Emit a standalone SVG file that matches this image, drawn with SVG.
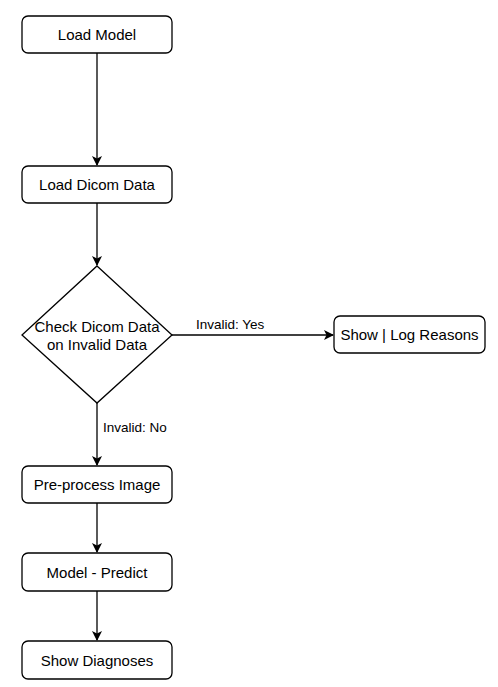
<svg xmlns="http://www.w3.org/2000/svg" width="498" height="687" viewBox="0 0 498 687">
<style>
.box{fill:#fff;stroke:#000;stroke-width:1.3}
.t{font-family:"Liberation Sans",Arial,sans-serif;font-size:15px;fill:#000;text-anchor:middle;dominant-baseline:central}
.l{font-family:"Liberation Sans",Arial,sans-serif;font-size:13.5px;fill:#000;dominant-baseline:central}
.c{fill:none;stroke:#000;stroke-width:1.3}
</style>
<defs>
<marker id="ah" viewBox="0 0 10 10" refX="9" refY="5" markerWidth="10" markerHeight="10" markerUnits="userSpaceOnUse" orient="auto">
<path d="M0,0 L10,5 L0,10 L2.5,5 Z" fill="#000"/>
</marker>
</defs>
<rect width="498" height="687" fill="#fff"/>
<g id="connectors">
<path class="c" d="M97,53 V165" marker-end="url(#ah)"/>
<path class="c" d="M97,203 V265" marker-end="url(#ah)"/>
<path class="c" d="M172,335 H333" marker-end="url(#ah)"/>
<path class="c" d="M97,403 V465" marker-end="url(#ah)"/>
<path class="c" d="M97,503 V552" marker-end="url(#ah)"/>
<path class="c" d="M97,591 V640" marker-end="url(#ah)"/>
<text class="l" x="196" y="324">Invalid: Yes</text>
<text class="l" x="103" y="427">Invalid: No</text>
</g>
<g id="load-model">
<rect class="box" x="22" y="16" width="150" height="37" rx="6"/>
<text class="t" x="97" y="34.5">Load Model</text>
</g>
<g id="load-dicom">
<rect class="box" x="22" y="166" width="150" height="37" rx="6"/>
<text class="t" x="97" y="184.5">Load Dicom Data</text>
</g>
<g id="check">
<path class="box" d="M97,266 L172,335 L97,403 L22,335 Z"/>
<text class="t" x="97" y="326">Check Dicom Data</text>
<text class="t" x="97" y="344">on Invalid Data</text>
</g>
<g id="show-log">
<rect class="box" x="334" y="316" width="151" height="37" rx="6"/>
<text class="t" x="409.5" y="334.5">Show | Log Reasons</text>
</g>
<g id="preprocess">
<rect class="box" x="22" y="466" width="150" height="37" rx="6"/>
<text class="t" x="97" y="484.5">Pre-process Image</text>
</g>
<g id="predict">
<rect class="box" x="22" y="553" width="150" height="38" rx="6"/>
<text class="t" x="97" y="572">Model - Predict</text>
</g>
<g id="diagnoses">
<rect class="box" x="22" y="641" width="150" height="38" rx="6"/>
<text class="t" x="97" y="660">Show Diagnoses</text>
</g>
</svg>
